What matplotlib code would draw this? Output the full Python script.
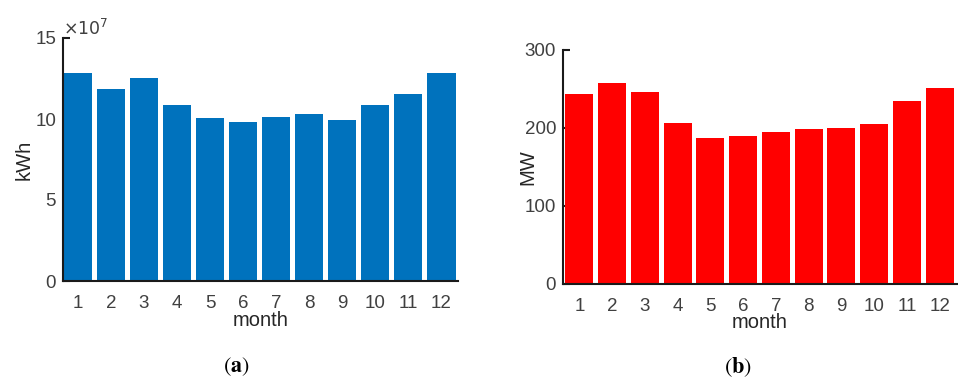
import matplotlib
matplotlib.use("Agg")
import matplotlib.pyplot as plt

months = list(range(1, 13))
month_labels = [str(m) for m in months]
energy_1e7_kwh = [12.84, 11.85, 12.53, 10.86, 10.06, 9.81, 10.12, 10.31, 9.94, 10.86, 11.54, 12.84]
peak_mw = [243.6, 257.7, 246.0, 206.4, 187.2, 189.7, 194.9, 198.7, 200.0, 205.1, 234.6, 251.3]

plt.rcParams["font.family"] = ["Liberation Sans", "DejaVu Sans"]

TICK_GRAY = "#404040"
LABEL_COLOR = "#262626"
W, H = 958, 378

fig = plt.figure(figsize=(W / 100, H / 100), dpi=100)


def px_axes(left, top, right, bottom):
    return fig.add_axes([left / W, 1 - bottom / H, (right - left) / W, (bottom - top) / H])


def style(ax, ylim, yticks, ylabel, ylabel_x):
    ax.set_ylim(*ylim)
    ax.set_yticks(yticks)
    ax.set_xticks(months)
    ax.set_xticklabels(month_labels)
    for s in ("top", "right"):
        ax.spines[s].set_visible(False)
    for s in ("left", "bottom"):
        ax.spines[s].set_linewidth(1.5)
        ax.spines[s].set_color("#1a1a1a")
        ax.spines[s].set_zorder(3)
    ax.tick_params(axis="y", direction="in", length=5, width=1.5, colors="#1a1a1a",
                   labelcolor=TICK_GRAY, labelsize=13.5, pad=5)
    ax.tick_params(axis="x", length=0, labelcolor=TICK_GRAY, labelsize=13.5, pad=10)
    ax.set_xlabel("month", fontsize=14.5, color=LABEL_COLOR)
    ax.xaxis.set_label_coords(0.5, -0.125)
    ax.set_ylabel(ylabel, fontsize=14.5, color=LABEL_COLOR)
    ax.yaxis.set_label_coords(ylabel_x, 0.5)


ax1 = px_axes(63, 38, 458, 281)
ax1.bar(months, energy_1e7_kwh, width=0.85, color="#0072BD", zorder=2)
ax1.set_xlim(0.55, 12.5)
style(ax1, (0, 15), [0, 5, 10, 15], "kWh", -0.075)

# exponent label for the energy axis
ax1.text(0.0, 1.0, r"$\times10^{7}$", transform=ax1.transAxes, fontsize=12.5,
         color=TICK_GRAY, ha="left", va="bottom", math_fontfamily="dejavusans")

ax2 = px_axes(563, 50, 957, 284)
ax2.bar(months, peak_mw, width=0.85, color="#FF0000", zorder=2)
ax2.set_xlim(0.5, 12.53)
style(ax2, (0, 300), [0, 100, 200, 300], "MW", -0.065)

for x_px, letter in ((236, "a"), (738, "b")):
    fig.text(x_px / W, 1 - 367 / H, r"$(\mathbf{%s})$" % letter, ha="center", va="center",
             fontsize=16, math_fontfamily="stix")

fig.savefig("out.png", dpi=100)
